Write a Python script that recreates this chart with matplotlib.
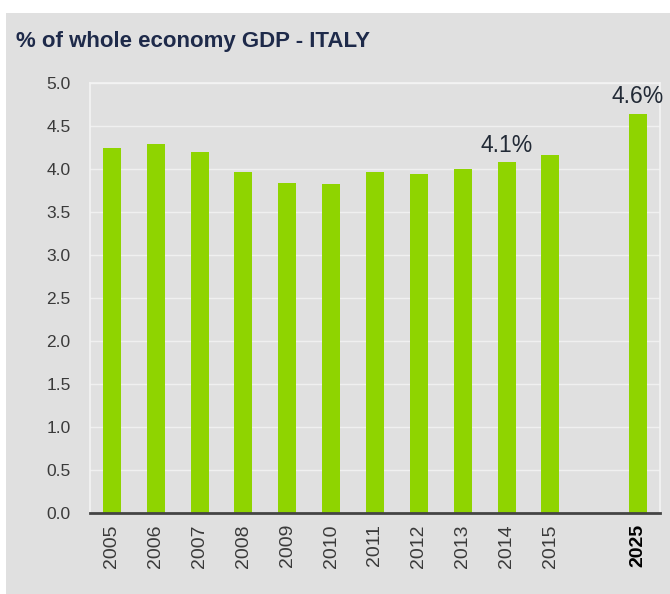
"""Italy: share of whole economy GDP, bar chart."""

import matplotlib.pyplot as plt
from matplotlib.patches import Rectangle

YEARS = ["2005", "2006", "2007", "2008", "2009", "2010", "2011",
         "2012", "2013", "2014", "2015", "2025"]
POSITIONS = [0, 1, 2, 3, 4, 5, 6, 7, 8, 9, 10, 12]
VALUES = [4.25, 4.29, 4.20, 3.96, 3.84, 3.83, 3.96, 3.94, 4.00, 4.08, 4.16, 4.64]
LABELS = {9: "4.1%", 11: "4.6%"}
Y_TICKS = [0.0, 0.5, 1.0, 1.5, 2.0, 2.5, 3.0, 3.5, 4.0, 4.5, 5.0]

BG = "#e0e0e0"
GREEN = "#8fd400"
NAVY = "#1e2a4a"

plt.rcParams["font.family"] = ["Liberation Sans", "DejaVu Sans"]

fig = plt.figure(figsize=(6.7, 5.94), dpi=100)
fig.patch.set_facecolor("white")
fig.patches.append(
    Rectangle((6 / 670, 0), 1, 1 - 13 / 594, transform=fig.transFigure,
              facecolor=BG, edgecolor="none", zorder=-10)
)

ax = fig.add_axes([90 / 670, 81 / 594, 570 / 670, 430 / 594])
ax.set_facecolor(BG)

ax.bar(POSITIONS, VALUES, width=0.41, color=GREEN, zorder=3)

ax.set_xlim(-0.5, 12.5)
ax.set_ylim(0, 5.0)
ax.set_yticks(Y_TICKS)
ax.set_yticklabels([f"{v:.1f}" for v in Y_TICKS], fontsize=12.5, color="#3a3a3a")
ax.set_xticks(POSITIONS)
ax.set_xticklabels(YEARS, rotation=90, fontsize=14, color="#3a3a3a")
ax.get_xticklabels()[-1].set_fontweight("bold")
ax.get_xticklabels()[-1].set_color("black")
ax.tick_params(axis="both", length=0)
ax.tick_params(axis="x", pad=8)
ax.tick_params(axis="y", pad=14)

ax.grid(axis="y", color="#f0f0f0", lw=1.0, zorder=1)
for side in ("left", "top", "right"):
    ax.spines[side].set_color("#f4f4f4")
    ax.spines[side].set_linewidth(1.2)
ax.spines["bottom"].set_color("#444444")
ax.spines["bottom"].set_linewidth(2)
ax.spines["bottom"].set_zorder(4)

for i, text in LABELS.items():
    ax.annotate(text, (POSITIONS[i], VALUES[i]), xytext=(0, 4),
                textcoords="offset points", ha="center", va="bottom",
                fontsize=16.5, color="#222a36", zorder=5)

fig.text(16 / 670, 1 - 42 / 594, "% of whole economy GDP - ITALY",
         fontsize=16, fontweight="bold", color=NAVY, va="center", ha="left")

fig.savefig("out.png", dpi=100, facecolor=fig.get_facecolor())
